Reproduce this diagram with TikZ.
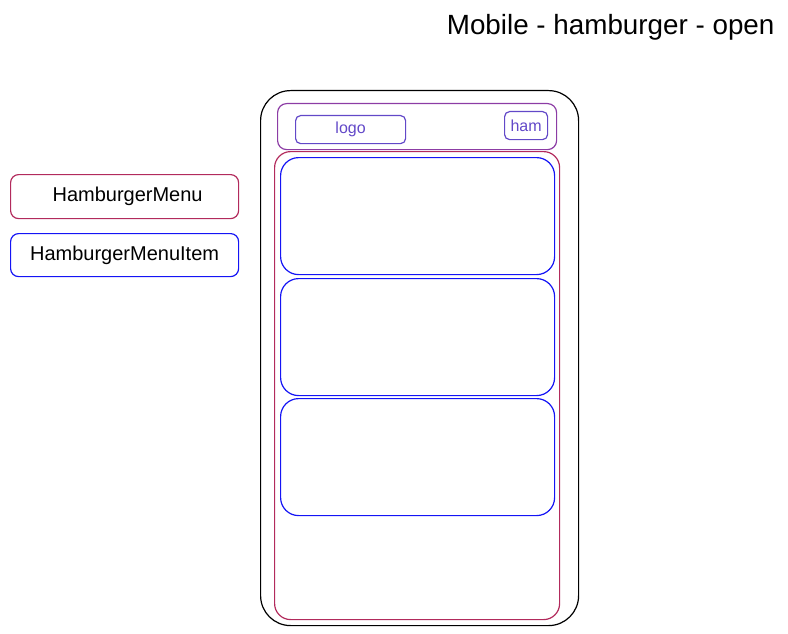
\documentclass[tikz,border=0pt]{standalone}
\usepackage{fontspec}
\setmainfont{Liberation Sans}
\usetikzlibrary{positioning}
\definecolor{menured}{RGB}{178,42,92}
\definecolor{headpurple}{RGB}{140,60,165}
\definecolor{logoblue}{RGB}{98,72,200}
\definecolor{itemblue}{RGB}{20,20,245}

\begin{document}
\begin{tikzpicture}[x=1pt, y=1pt,
  box/.style={draw, anchor=north west, inner sep=0pt, line width=1.2pt},
  lbl/.style={font=\fontsize{20}{22}\selectfont, text=black},
  sml/.style={font=\fontsize{16}{18}\selectfont, text=logoblue}]
\useasboundingbox (0,0) rectangle (788,-634);
%title
\node[anchor=base east, font=\fontsize{27.8}{32}\selectfont] (title) at (778,-35) {Mobile - hamburger - open};
%legend
\node[box, draw=menured, rounded corners=8, minimum width=228, minimum height=44, lbl] (legmenu) at (10,-174) {\hspace{6pt}HamburgerMenu};
\node[box, draw=itemblue, rounded corners=8, minimum width=228, minimum height=43, lbl] (legitem) at (10,-233) {HamburgerMenuItem};
%phone
\node[box, draw=black, rounded corners=30, minimum width=318, minimum height=535] (phone) at (260,-90) {};
%header
\node[box, draw=headpurple, rounded corners=9, minimum width=279, minimum height=46] (header) at (277,-103) {};
\node[box, draw=logoblue, rounded corners=5, minimum width=110, minimum height=28, sml] (logo) at (295,-115) {logo};
\node[box, draw=logoblue, rounded corners=5, minimum width=43, minimum height=28, sml] (ham) at (504,-111) {ham};
%menu
\node[box, draw=menured, rounded corners=16, minimum width=285, minimum height=468] (menu) at (274,-151) {};
\foreach \y/\n in {157/1, 278/2, 398/3}{
  \node[box, draw=itemblue, rounded corners=18, minimum width=274, minimum height=117] (item\n) at (280,-\y) {};
}
\end{tikzpicture}
\end{document}
